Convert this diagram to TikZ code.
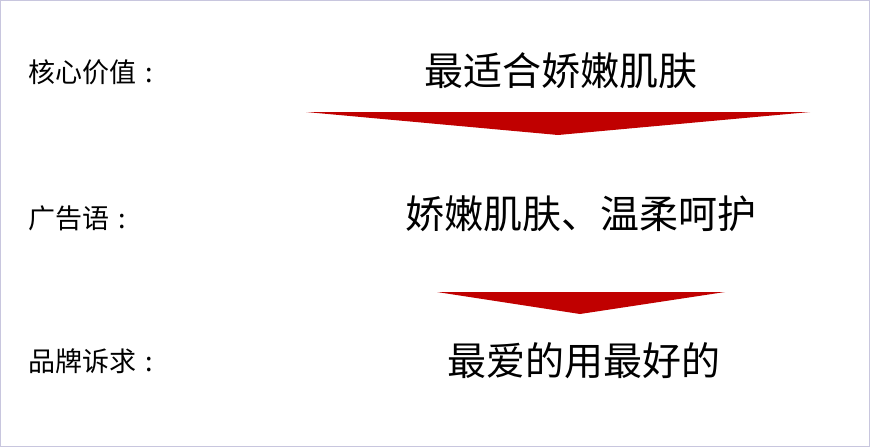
\documentclass[tikz,border=0pt]{standalone}
\usepackage{fontspec}
\newfontfamily\cjk{Noto Sans CJK SC}
\definecolor{framecol}{RGB}{200,198,222}
\definecolor{arrowred}{RGB}{192,0,0}
\newcommand{\cjkcolon}{\makebox[1em][c]{:}}
\tikzset{
  label/.style={inner sep=0pt, anchor=west, font=\cjk\fontsize{27}{31}\selectfont},
  slogan/.style={inner sep=0pt, anchor=center, font=\cjk\fontsize{39}{46}\selectfont},
  wedge/.style={fill=arrowred, draw=none}
}
\begin{document}
\begin{tikzpicture}[x=1pt,y=-1pt]
\useasboundingbox (0,0) rectangle (870,447);
\draw[framecol, line width=1.2pt] (0.6,0.6) rectangle (869.4,446.4);
\node[label] (l1) at (28,72) {核心价值\cjkcolon};
\node[label] (l2) at (28,218) {广告语\cjkcolon};
\node[label] (l3) at (28,361) {品牌诉求\cjkcolon};
\node[slogan] (s1) at (561,71) {最适合娇嫩肌肤};
\node[slogan] (s2) at (581,214) {娇嫩肌肤、温柔呵护};
\node[slogan] (s3) at (584,361) {最爱的用最好的};
\fill[wedge] (306,112) -- (810,112) -- (558,135) -- cycle;
\fill[wedge] (437,292) -- (725,292) -- (580,314) -- cycle;
\end{tikzpicture}
\end{document}
